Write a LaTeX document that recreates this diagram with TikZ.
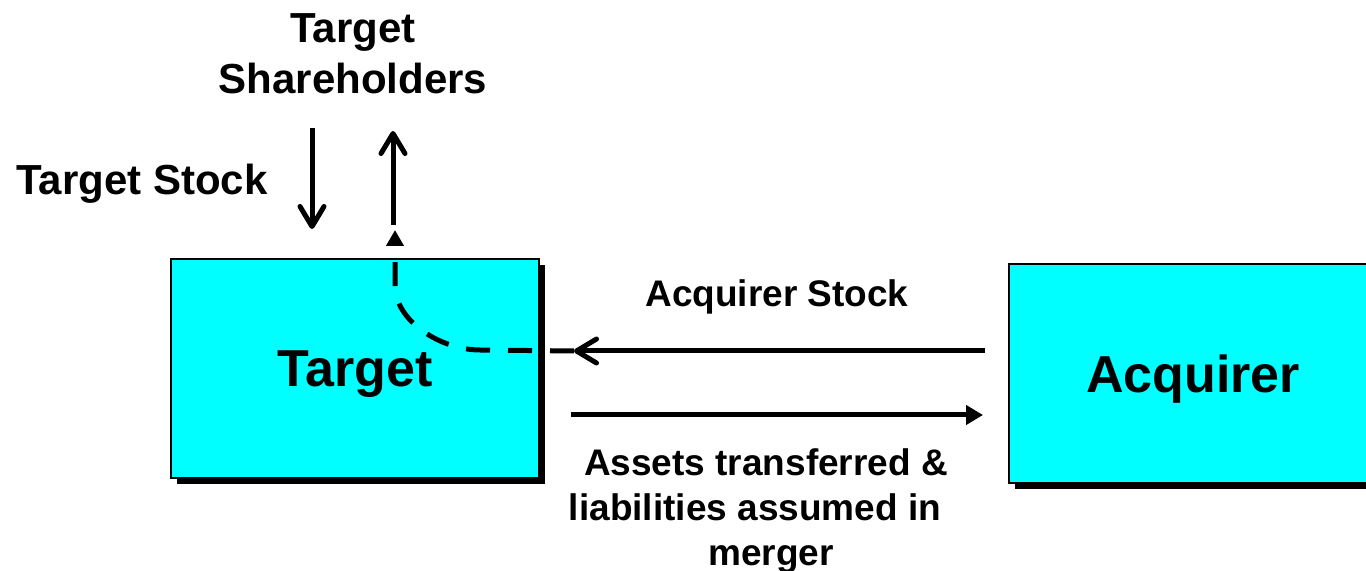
\documentclass[tikz,border=0pt]{standalone}
\usepackage{fontspec}
\setmainfont{Liberation Sans}
\usetikzlibrary{arrows.meta,calc,shadows}
\definecolor{boxcyan}{HTML}{00FFFF}

\begin{document}
\begin{tikzpicture}[x=0.5pt,y=-0.5pt,
  box/.style={draw=black, line width=1pt, fill=boxcyan,
    minimum width=184pt, minimum height=109.5pt, inner sep=0pt,
    text depth=0pt, font=\fontsize{26}{31}\selectfont\bfseries,
    drop shadow={shadow xshift=3pt, shadow yshift=-3pt, fill=black, opacity=1}},
  biglbl/.style={inner sep=0pt, font=\fontsize{21}{25.5}\selectfont\bfseries},
  smalllbl/.style={inner sep=0pt, font=\fontsize{18.5}{22.5}\selectfont\bfseries},
  barbarrow/.style={line width=2.5pt,
    -{Straight Barb[length=10pt,width=12pt,line cap=round,line join=round]}},
  solidarrow/.style={line width=2.5pt, -{Triangle[length=8.5pt,width=9.5pt]}},
  dasharrow/.style={line width=2.5pt, dash pattern=on 12pt off 9pt,
    -{Triangle[length=8pt,width=8.5pt]}}]

\useasboundingbox (0,0) rectangle (1366,571);
\begin{scope}
\clip (0,0) rectangle (1366,571);

% the two companies
\node[box] (tgt) at (355,368.5) {Target};
\node[box] (acq) at (1193,374) {Acquirer};

% labels
\node[biglbl, anchor=north, align=center] (tsh) at (353,13) {Target\\Shareholders};
\node[biglbl, anchor=base west] (tstock) at (16,195) {Target Stock};
\node[smalllbl, anchor=base] (astock) at (777,307) {Acquirer Stock};
\node[smalllbl, anchor=north, align=center] (assets) at (771,448)
  {Assets transferred \&\rule{5pt}{0pt}\\liabilities assumed in\rule{16pt}{0pt}\\merger};

% connector end points
\coordinate (downstart) at ($(tgt.north)+(-43,-130)$);
\coordinate (downend)   at ($(tgt.north)+(-43,-29)$);
\coordinate (upstart)   at ($(tgt.north)+(38,-33)$);
\coordinate (upend)     at ($(tgt.north)+(38,-127)$);
\coordinate (stockstart) at ($(acq.west)+(-23,-23)$);
\coordinate (stocktip)   at ($(tgt.east)+(34,-17.5)$);
\coordinate (assetstart) at ($(tgt.east)+(31,46.5)$);
\coordinate (assetend)   at ($(acq.west)+(-25,41)$);
\coordinate (dashend)    at ($(tgt.north)+(40,-28)$);

% share flows between Target and its shareholders
\draw[barbarrow] (downstart) -- (downend);
\draw[barbarrow] (upstart) -- (upend);

% flows between the companies
\draw[barbarrow] (stockstart) -- (stocktip);
\draw[solidarrow] (assetstart) -- (assetend);

% acquirer stock passed on to the target shareholders
\draw[dasharrow] (stocktip) -- (480,350)
  .. controls (442,350) and (395,322) .. (395,285) -- (dashend);
\end{scope}
\end{tikzpicture}
\end{document}
